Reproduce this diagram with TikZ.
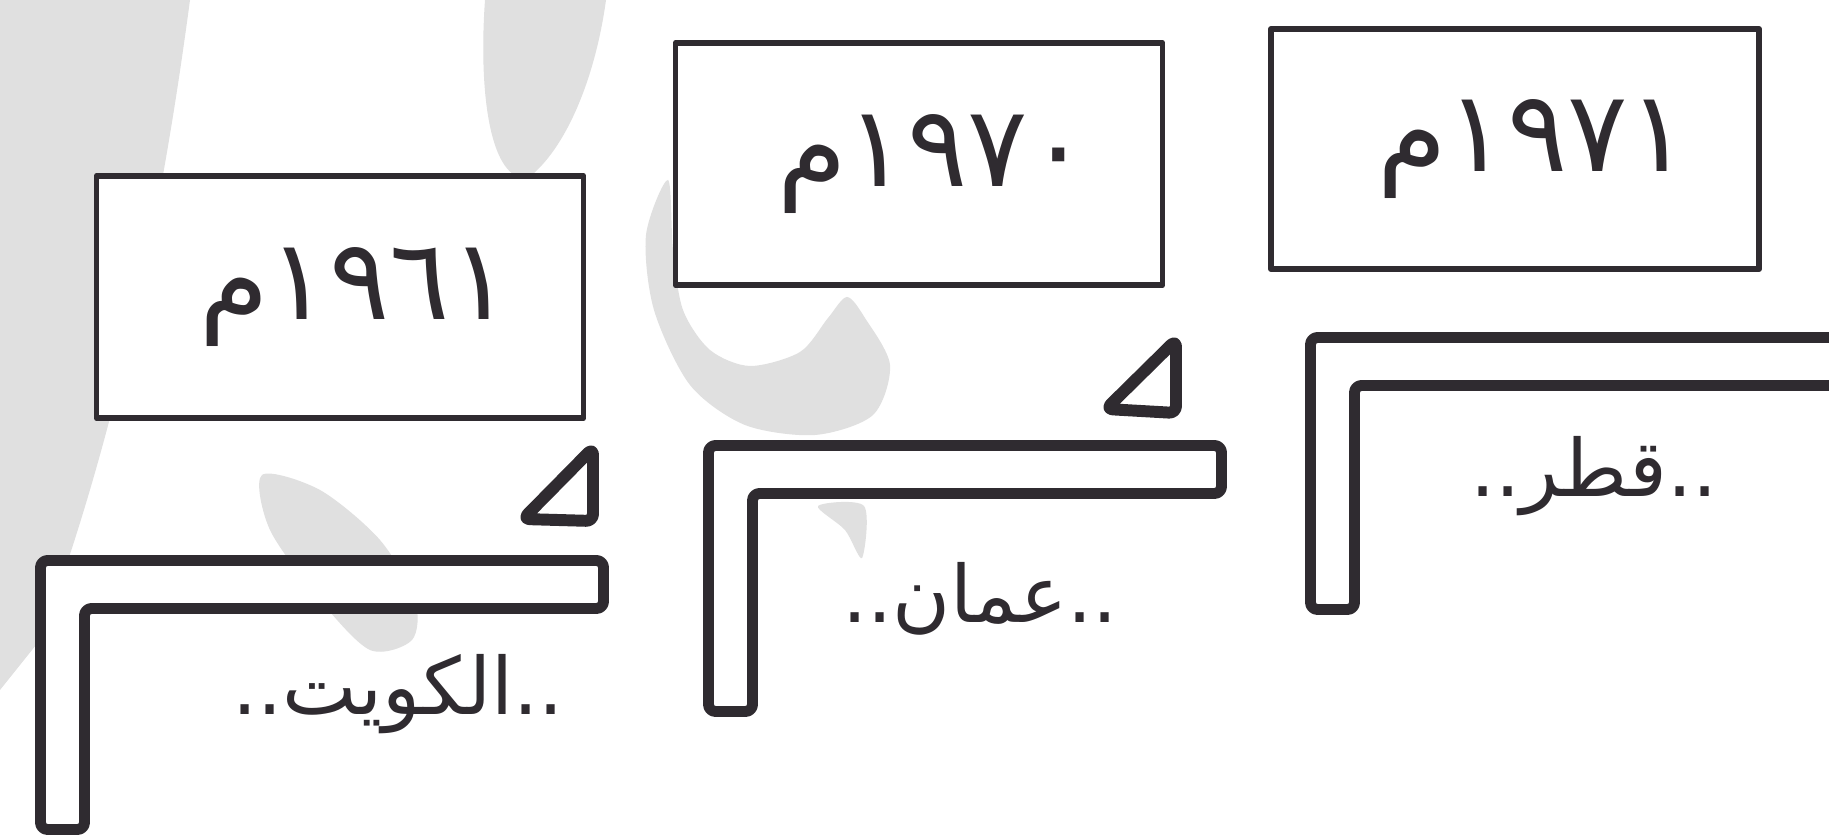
\documentclass[tikz,border=0pt]{standalone}
\usepackage{fontspec}
\usetikzlibrary{positioning}
\TeXXeTstate=1
\newfontfamily\arabicfont[Script=Arabic]{DejaVu Sans}
\definecolor{scanink}{HTML}{2F2B30}
\definecolor{scangray}{HTML}{E0E0E0}

\begin{document}
\begin{tikzpicture}[x=0.01cm, y=-0.01cm, line join=round,
    yearbox/.style={draw=scanink, fill=white, line width=1.6pt, minimum width=4.87cm,
      minimum height=2.42cm, inner sep=0pt},
    yeartext/.style={font=\arabicfont\fontsize{32}{38}\selectfont, text=scanink},
    country/.style={anchor=base, font=\arabicfont\fontsize{22.5}{27}\selectfont, text=scanink},
    bracket/.style={draw=scanink, fill=white, line width=3.1pt, rounded corners=2pt},
    marker/.style={draw=scanink, line width=3.4pt, rounded corners=2pt},
    watermark/.style={fill=scangray, draw=none}]
  \clip (0,0) rectangle (1829,837);
  \fill[white] (0,0) rectangle (1829,837);
  % faint watermark behind the page
  \fill[watermark] (0,0) -- (190,0) .. controls (170,150) and (130,400) .. (40,640) -- (0,690) -- cycle;
  \fill[watermark] (485,0) -- (606,0) .. controls (595,80) and (565,150) .. (528,178)
    .. controls (492,182) and (478,100) .. (485,0) -- cycle;
  \fill[watermark] plot[smooth cycle] coordinates {(668,180) (646,235) (654,310) (690,385)
    (745,425) (815,435) (873,415) (890,365) (865,318) (847,297) (828,318) (800,352)
    (750,366) (710,350) (683,310) (673,250)};
  \fill[watermark] plot[smooth cycle] coordinates {(818,506) (845,530) (862,558) (864,506)};
  \fill[watermark] plot[smooth cycle] coordinates {(262,475) (320,490) (380,540) (415,600)
    (412,640) (370,650) (320,600) (270,530)};
  % year boxes
  \node[yearbox] (box1961) at (340,297) {};
  \node[yearbox] (box1970) at (919,164) {};
  \node[yearbox, minimum width=4.88cm, minimum height=2.4cm] (box1971) at (1515,149) {};
  \node[yeartext] (y1961) at ([xshift=0.15cm]box1961.center) {\beginR ١٩٦١م\endR};
  \node[yeartext] (y1970) at ([xshift=0.14cm]box1970.center) {\beginR ١٩٧٠م\endR};
  \node[yeartext] (y1971) at ([xshift=0.18cm]box1971.center) {\beginR ١٩٧١م\endR};
  % small triangles
  \draw[marker] (523,519) -- (593,448) -- (593,521) -- cycle;
  \draw[marker] (1106,409) -- (1176,340) -- (1176,413) -- cycle;
  % L-shaped brackets
  \foreach \xl/\yt/\xr/\yb in {40.5/560.5/603.5/829.5, 708.5/445.5/1221.5/711.5, 1310.5/337.5/1850/609.5}{
    \draw[bracket] (\xl,\yt) -- (\xr,\yt) -- (\xr,\yt+48) -- (\xl+44,\yt+48)
      -- (\xl+44,\yb) -- (\xl,\yb) -- cycle;
  }
  % country names
  \node[country] (kuwait) at (398,715) {\beginR ..الكويت..\endR};
  \node[country] (oman) at (980,623) {\beginR ..عمان..\endR};
  \node[country] (qatar) at (1594,497) {\beginR ..قطر..\endR};
\end{tikzpicture}
\end{document}
